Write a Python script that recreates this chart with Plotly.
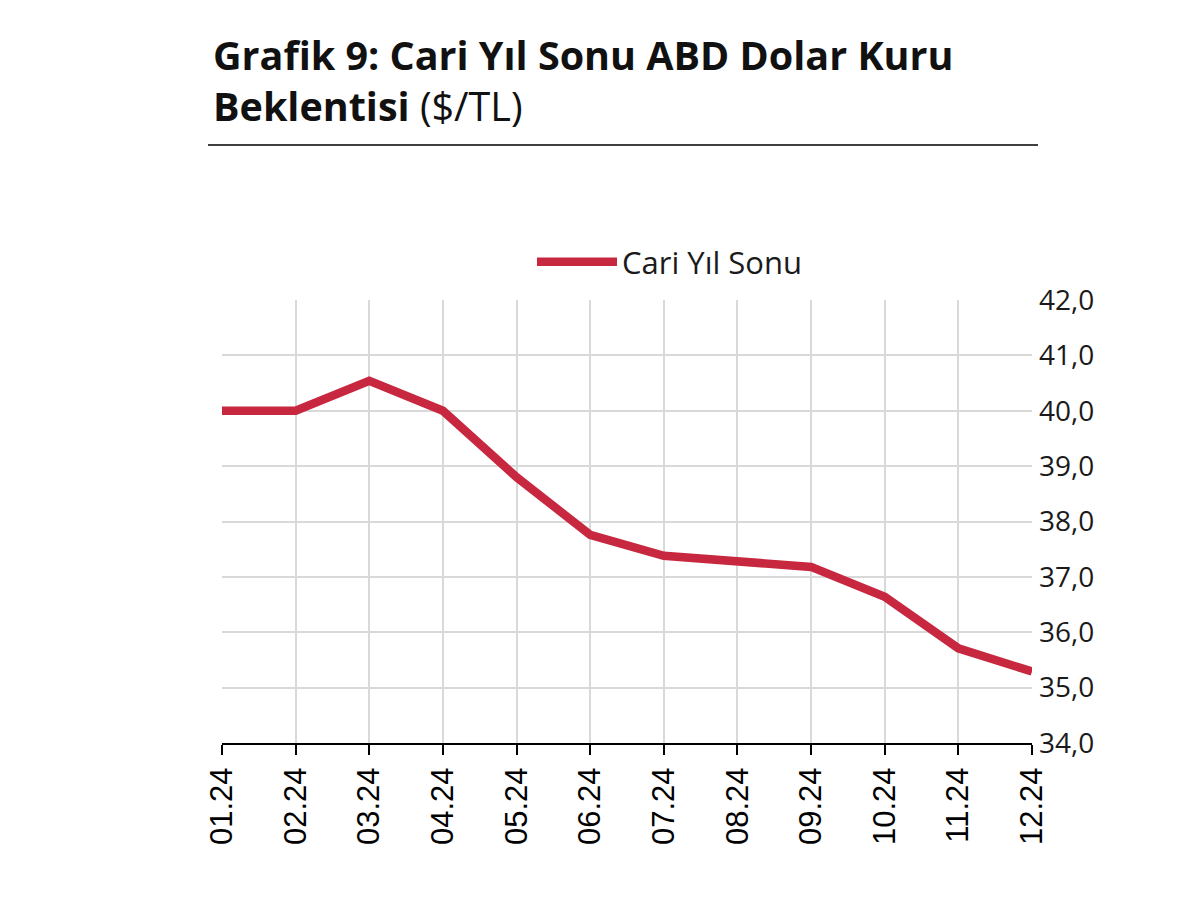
import plotly.graph_objects as go

months = ["01.24", "02.24", "03.24", "04.24", "05.24", "06.24",
          "07.24", "08.24", "09.24", "10.24", "11.24", "12.24"]
cari_yil_sonu = [40.0, 40.0, 40.54, 40.0, 38.8, 37.76,
                 37.38, 37.28, 37.18, 36.64, 35.71, 35.29]
y_ticks = [34, 35, 36, 37, 38, 39, 40, 41, 42]

OFF = 8  # page body offset
W, H = 1200 - 2 * OFF, 898 - 2 * OFF
# target plot-area edges in page pixels
L, R, T, B = 222, 1032, 300, 743

fig = go.Figure()
fig.add_trace(go.Scatter(
    x=months, y=cari_yil_sonu, mode="lines", name="Cari Yıl Sonu",
    line=dict(color="#c8283f", width=8.5),
))

def px_to_paper_y(py):
    return (B - py) / (B - T)

def px_to_paper_x(px):
    return (px - L) / (R - L)

fig.update_layout(
    width=W, height=H,
    margin=dict(l=L - OFF, r=W - (R - OFF), t=T - OFF, b=H - (B - OFF), pad=0),
    paper_bgcolor="white", plot_bgcolor="white",
    separators=",.",
    font=dict(family="Open Sans", color="#1a1a1a"),
    showlegend=True,
    legend=dict(
        orientation="h", x=px_to_paper_x(532), y=px_to_paper_y(262),
        xanchor="left", yanchor="middle",
        font=dict(family="Open Sans", size=31, color="#1a1a1a"),
        itemwidth=80, bgcolor="rgba(0,0,0,0)",
    ),
    xaxis=dict(
        type="category", range=[0, len(months) - 1],
        showgrid=True, gridcolor="#d9d9d9", gridwidth=1.5,
        showline=True, linecolor="#000000", linewidth=2,
        ticks="outside", ticklen=10, tickwidth=2, tickcolor="#000000",
        tickangle=-90,
        tickfont=dict(family="Liberation Sans, Arial", size=31, color="#000000"),
        zeroline=False,
    ),
    yaxis=dict(
        range=[34, 42], side="right", tickvals=y_ticks, tickformat=".1f",
        showgrid=True, gridcolor="#d9d9d9", gridwidth=1.5,
        showline=False, zeroline=False, ticks="",
        ticklabelstandoff=6,
        tickfont=dict(family="Open Sans", size=28, color="#1a1a1a"),
    ),
)

fig.add_annotation(
    xref="paper", yref="paper", x=px_to_paper_x(211), y=px_to_paper_y(26),
    xanchor="left", yanchor="top", align="left", showarrow=False,
    text="<b>Grafik 9: Cari Yıl Sonu ABD Dolar Kuru</b><br><b>Beklentisi</b> ($/TL)",
    font=dict(family="Open Sans", size=39.5, color="#111111"),
)
fig.add_shape(
    type="line", xref="paper", yref="paper",
    x0=px_to_paper_x(208), x1=px_to_paper_x(1038),
    y0=px_to_paper_y(145), y1=px_to_paper_y(145),
    line=dict(color="#404040", width=2),
)

fig.write_html("out.html")
